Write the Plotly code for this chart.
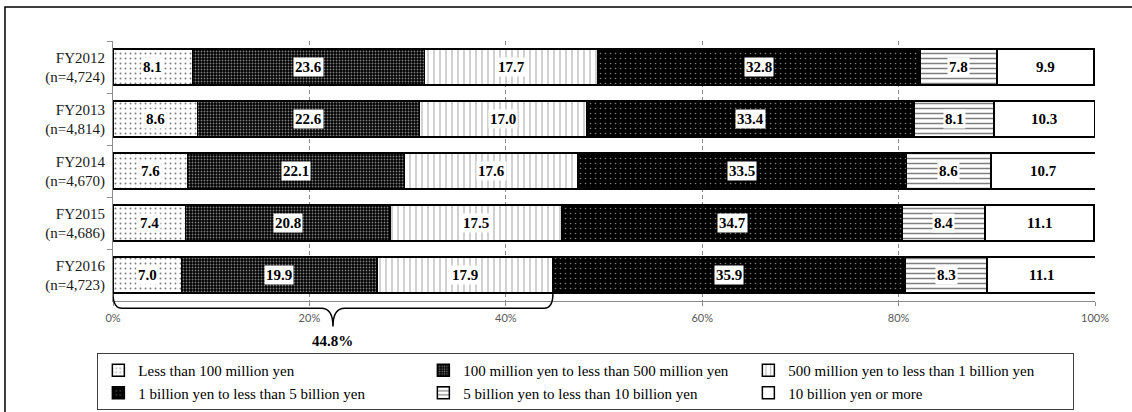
import plotly.graph_objects as go

# Survey years and respondent counts
years = ["FY2012", "FY2013", "FY2014", "FY2015", "FY2016"]
respondents = ["4,724", "4,814", "4,670", "4,686", "4,723"]

# Share of companies by amount (%)
less_100m = [8.1, 8.6, 7.6, 7.4, 7.0]
m100_to_500m = [23.6, 22.6, 22.1, 20.8, 19.9]
m500_to_1b = [17.7, 17.0, 17.6, 17.5, 17.9]
b1_to_5b = [32.8, 33.4, 33.5, 34.7, 35.9]
b5_to_10b = [7.8, 8.1, 8.6, 8.4, 8.3]
b10_plus = [9.9, 10.3, 10.7, 11.1, 11.1]

series_names = [
    "Less than 100 million yen",
    "100 million yen to less than 500 million yen",
    "500 million yen to less than 1 billion yen",
    "1 billion yen to less than 5 billion yen",
    "5 billion yen to less than 10 billion yen",
    "10 billion yen or more",
]
series_values = [less_100m, m100_to_500m, m500_to_1b, b1_to_5b, b5_to_10b, b10_plus]

# Monochrome hatch styles, one per band
patterns = [
    dict(shape=".", fgcolor="black", bgcolor="white", size=5, solidity=0.12),
    dict(shape=".", fgcolor="white", bgcolor="black", size=3, solidity=0.3),
    dict(shape="|", fgcolor="black", bgcolor="white", size=6, solidity=0.12),
    dict(shape=".", fgcolor="white", bgcolor="black", size=5, solidity=0.08),
    dict(shape="-", fgcolor="black", bgcolor="white", size=5, solidity=0.3),
    dict(shape="", fgcolor="black", bgcolor="white"),
]

SERIF = "Liberation Serif"
y_labels = [f"{y}<br>(n={n})" for y, n in zip(years, respondents)]

fig = go.Figure()
for name, vals, pat in zip(series_names, series_values, patterns):
    fig.add_trace(go.Bar(
        x=vals, y=y_labels, name=name, orientation="h",
        marker=dict(color="white", pattern=pat,
                    line=dict(color="black", width=1.5)),
        hoverinfo="x+name",
    ))

# Value labels in white boxes at the centre of each segment
annotations = []
for i, lab in enumerate(y_labels):
    left = 0.0
    for vals in series_values:
        v = vals[i]
        annotations.append(dict(
            x=left + v / 2, y=lab, xref="x", yref="y",
            text=f"<b>{v:.1f}</b>", showarrow=False,
            font=dict(family=SERIF, size=15, color="black"),
            bgcolor="white", borderpad=1,
        ))
        left += v

# Brace under the three smallest bands of the latest year
last = len(years) - 1
under_1b = round(less_100m[last] + m100_to_500m[last] + m500_to_1b[last], 1)
mid = under_1b / 2
y_top, y_bar, y_tip = 0.03, -0.028, -0.098
r = 0.9
brace = (
    f"M 0,{y_top} Q 0,{y_bar} {r},{y_bar} "
    f"L {mid - 1.2},{y_bar} Q {mid},{y_bar} {mid},{y_tip} "
    f"Q {mid},{y_bar} {mid + 1.2},{y_bar} "
    f"L {under_1b - r},{y_bar} Q {under_1b},{y_bar} {under_1b},{y_top}"
)
shapes = [
    dict(type="path", path=brace, xref="x", yref="paper",
         line=dict(color="black", width=1.5), layer="above"),
    # outer frame
    dict(type="rect", xref="paper", yref="paper",
         x0=-0.11, x1=1.2, y0=-0.8, y1=1.131,
         line=dict(color="black", width=1.5), fillcolor="rgba(0,0,0,0)"),
]
annotations.append(dict(
    x=mid, y=-0.155, xref="x", yref="paper", text=f"<b>{under_1b:.1f}%</b>",
    showarrow=False, font=dict(family=SERIF, size=15, color="black"),
    yanchor="middle",
))

fig.update_layout(
    width=1132, height=412,
    margin=dict(l=113, r=37, t=41, b=111),
    paper_bgcolor="white", plot_bgcolor="white",
    barmode="stack", bargap=0.31,
    showlegend=True,
    legend=dict(
        orientation="h", xref="container", yref="container",
        x=0.086, xanchor="left", y=0.143, yanchor="top",
        entrywidth=280, entrywidthmode="pixels",
        font=dict(family=SERIF, size=15, color="black"),
        bordercolor="#404040", borderwidth=1, bgcolor="white",
        traceorder="normal", itemwidth=30,
    ),
    xaxis=dict(
        range=[0, 100], dtick=20, ticksuffix="%",
        showgrid=True, gridcolor="#8c8c8c", griddash="4px,3px", gridwidth=1,
        showline=True, linecolor="#8c8c8c", linewidth=1,
        ticks="outside", ticklen=4, tickcolor="#8c8c8c",
        tickfont=dict(family="Lato", size=11, color="#595959"),
        ticklabelstandoff=3, zeroline=False, fixedrange=True,
    ),
    yaxis=dict(
        autorange="reversed", type="category",
        showline=True, linecolor="#8c8c8c", linewidth=1,
        ticks="outside", ticklen=5, tickcolor="#8c8c8c", tickson="boundaries",
        tickfont=dict(family=SERIF, size=15, color="#1a1a1a"),
        ticklabelstandoff=4, showgrid=False, fixedrange=True,
    ),
    annotations=annotations,
    shapes=shapes,
)

fig.write_html("out.html")
